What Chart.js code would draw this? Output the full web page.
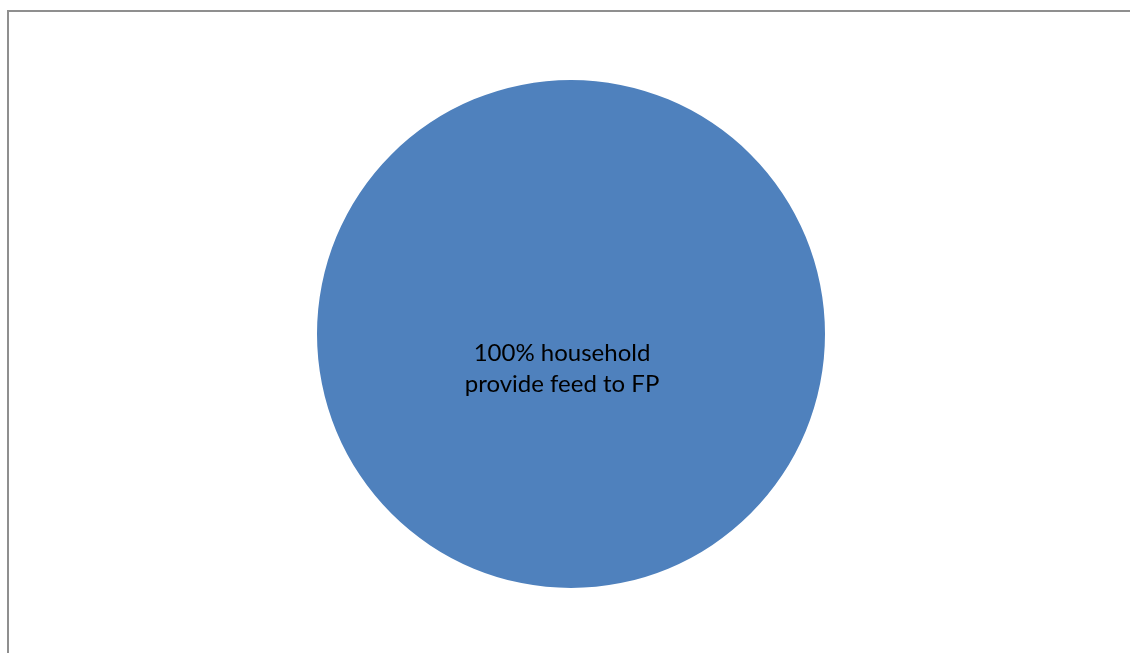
<!DOCTYPE html>
<html>
<head>
<meta charset="UTF-8">
<script src="https://cdn.jsdelivr.net/npm/chart.js"></script>
<style>
  html, body { margin: 0; padding: 0; background: #fff; }
  body { width: 1130px; height: 653px; position: relative; overflow: hidden; }
  .frame { position: absolute; left: 7px; top: 10px; width: 1140px; height: 660px;
           border-left: 2px solid #8f8f8f; border-top: 2px solid #8f8f8f; }
  .wrap { position: absolute; left: 0; top: 0; width: 1130px; height: 653px; }
</style>
</head>
<body>
<div class="frame"></div>
<div class="wrap"><canvas id="chart"></canvas></div>
<script>
const categories = [["100% household", "provide feed to FP"]];
const shares = [100];
const sliceColors = ["#4F81BD"];

// draws the slice label inside the pie, like the Excel data label
const sliceLabel = {
  id: "sliceLabel",
  afterDatasetsDraw(chart) {
    const ctx = chart.ctx;
    const arcs = chart.getDatasetMeta(0).data;
    ctx.save();
    ctx.font = "24px Lato";
    ctx.fillStyle = "#000";
    ctx.textAlign = "center";
    ctx.textBaseline = "alphabetic";
    arcs.forEach((arc, i) => {
      const lines = chart.data.labels[i];
      lines.forEach((line, j) => {
        ctx.fillText(line, arc.x - 9, arc.y + 27 + j * 31);
      });
    });
    ctx.restore();
  }
};

new Chart(document.getElementById("chart"), {
  type: "pie",
  data: {
    labels: categories,
    datasets: [{
      data: shares,
      backgroundColor: sliceColors,
      borderWidth: 0
    }]
  },
  options: {
    responsive: true,
    maintainAspectRatio: false,
    animation: false,
    layout: { padding: { left: 317, right: 305, top: 80, bottom: 65 } },
    plugins: {
      legend: { display: false },
      tooltip: { enabled: false }
    }
  },
  plugins: [sliceLabel]
});
</script>
</body>
</html>
